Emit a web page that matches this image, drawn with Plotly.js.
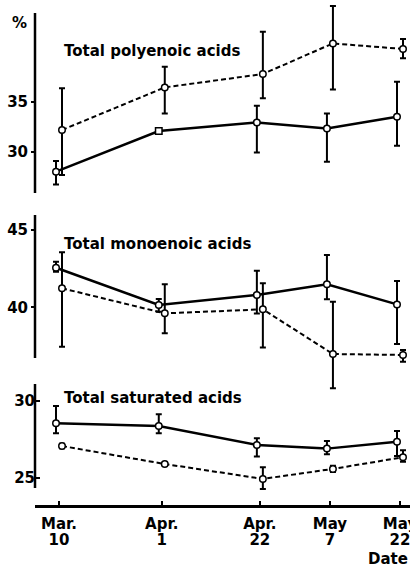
<!DOCTYPE html>
<html><head><meta charset="utf-8">
<script src="https://cdn.plot.ly/plotly-3.0.1.min.js"></script>
<style>html,body{margin:0;padding:0;background:#fff}#chart{width:410px;height:570px}</style>
</head><body><div id="chart"></div>
<script>
// ---- data ----
const dates = ['1970-03-10','1970-04-01','1970-04-22','1970-05-07','1970-05-22'];
const monthLabels = ['Mar.','Apr.','Apr.','May','May'];
const dayLabels = ['10','1','22','7','22'];

const polySolid      = [28.0, 32.07, 32.93, 32.33, 33.5];
const polySolidUp    = [1.07, 0, 1.67, 1.5, 3.5];
const polySolidDown  = [1.27, 0, 3.0, 3.33, 2.9];
const polyDashed     = [32.17, 36.43, 37.77, 40.83, 40.27];
const polyDashedUp   = [4.17, 2.07, 4.23, 3.73, 1.0];
const polyDashedDown = [4.5, 2.6, 2.43, 4.6, 0.93];

const monoSolid      = [42.56, 40.15, 40.8, 41.49, 40.19];
const monoSolidUp    = [0.39, 0.39, 1.57, 1.89, 1.51];
const monoSolidDown  = [0.26, 0.43, 1.2, 0.97, 2.56];
const monoDashed     = [41.23, 39.61, 39.87, 36.98, 36.92];
const monoDashedUp   = [2.33, 1.88, 1.68, 3.38, 0.32];
const monoDashedDown = [3.78, 1.29, 2.46, 2.22, 0.44];

const satSolid       = [28.53, 28.35, 27.12, 26.88, 27.33];
const satSolidUp     = [1.13, 0.76, 0.43, 0.5, 0.7];
const satSolidDown   = [0.65, 0.47, 0.76, 0.37, 0.93];
const satDashed      = [27.05, 25.88, 24.91, 25.56, 26.32];
const satDashedUp    = [0.15, 0.1, 0.76, 0.2, 0.45];
const satDashedDown  = [0.15, 0.1, 0.65, 0.2, 0.3];

const panelTitles = ['Total polyenoic acids','Total monoenoic acids','Total saturated acids'];
const polyTicks = [30, 35];
const monoTicks = [40, 45];
const satTicks  = [25, 30];

// ---- layout helpers ----
const W = 410, H = 570, L = 35;
const FONT = 'DejaVu Sans';
const py = p => 1 - p / H;             // pixel y -> paper
const px = p => (p - L) / (W - L);     // pixel x -> paper
const DAY = 864e5;
const base = Date.UTC(1970, 2, 10);
const pxPerDay = (400 - 59) / 73;
const left = base - (59 - L) / pxPerDay * DAY;
const right = base + (73 + (W - 400) / pxPerDay) * DAY;
const shift = 3 / pxPerDay * DAY;      // small horizontal offset of the two series
const fmt = ms => new Date(ms).toISOString().replace('T', ' ').replace('Z', '');
const toMs = d => Date.parse(d + 'T00:00:00Z');

const tf = {family: FONT, size: 15, color: 'black', weight: 'bold'};

function pair(yid, sv, su, sd, dv, du, dd, solidSymbols) {
  const common = {type: 'scatter', mode: 'lines+markers', x: dates, yaxis: yid,
    cliponaxis: false, showlegend: false, hoverinfo: 'skip'};
  return [
    Object.assign({}, common, {xaxis: 'x', y: sv,
      line: {color: 'black', width: 2.5},
      marker: {symbol: solidSymbols || 'circle', size: 6.5, color: 'white', line: {color: 'black', width: 1.5}},
      error_y: {type: 'data', symmetric: false, array: su, arrayminus: sd, color: 'black', thickness: 2, width: 3}}),
    Object.assign({}, common, {xaxis: 'x2', y: dv,
      line: {color: 'black', width: 2, dash: '5px,3px'},
      marker: {symbol: 'circle', size: 6.5, color: 'white', line: {color: 'black', width: 1.5}},
      error_y: {type: 'data', symmetric: false, array: du, arrayminus: dd, color: 'black', thickness: 2, width: 3}})
  ];
}

const data = [].concat(
  pair('y', polySolid, polySolidUp, polySolidDown, polyDashed, polyDashedUp, polyDashedDown,
       ['circle','square','circle','circle','circle']),
  pair('y2', monoSolid, monoSolidUp, monoSolidDown, monoDashed, monoDashedUp, monoDashedDown),
  pair('y3', satSolid, satSolidUp, satSolidDown, satDashed, satDashedUp, satDashedDown)
);

function yax(domain, range, ticks, dir) {
  return {domain: domain, range: range, anchor: 'free', position: 0,
    showline: false,
    ticks: dir, ticklen: 4, tickwidth: 2, tickcolor: 'black',
    tickmode: 'array', tickvals: ticks, tickfont: tf,
    showgrid: false, zeroline: false, fixedrange: true};
}
function axisLine(top, bottom) {
  return {type: 'line', xref: 'paper', yref: 'paper', x0: 0, x1: 0, y0: py(bottom), y1: py(top),
    line: {color: 'black', width: 2.5}};
}

const layout = {
  width: W, height: H,
  margin: {l: L, r: 0, t: 0, b: 0},
  paper_bgcolor: 'white', plot_bgcolor: 'rgba(0,0,0,0)',
  showlegend: false,
  xaxis: {type: 'date', range: [fmt(left + shift), fmt(right + shift)], domain: [0, 1],
    anchor: 'free', position: py(506),
    showline: true, linecolor: 'black', linewidth: 2.5,
    ticks: 'inside', ticklen: 4, tickwidth: 2, tickcolor: 'black',
    tickmode: 'array', tickvals: dates.map(d => fmt(toMs(d) + shift)), ticktext: monthLabels, tickfont: tf,
    ticklabelstandoff: 3, ticklabeloverflow: 'allow',
    showgrid: false, zeroline: false, fixedrange: true},
  xaxis2: {type: 'date', range: [fmt(left - shift), fmt(right - shift)], overlaying: 'x',
    anchor: 'free', position: py(529),
    showline: false, ticks: '', ticklabeloverflow: 'allow',
    tickmode: 'array', tickvals: dates.map(d => fmt(toMs(d) - shift)), ticktext: dayLabels, tickfont: tf,
    showgrid: false, zeroline: false, fixedrange: true},
  // domains reach a bit past the drawn axis lines so long error bars are not cut
  yaxis:  yax([py(193), py(4)], [30 - (193 - 151.7) / 10, 35 + (101.7 - 4) / 10], polyTicks, 'outside'),
  yaxis2: yax([py(392), py(215)], [40 - (392 - 307.3) / 15.47, 45 + (230 - 215) / 15.47], monoTicks, 'outside'),
  yaxis3: yax([py(492), py(384)], [25 - (492 - 477.5) / 15.37, 30 + (400.7 - 384) / 15.37], satTicks, 'inside'),
  shapes: [axisLine(13, 193), axisLine(215, 358), axisLine(384, 488)],
  annotations: [
    {text: panelTitles[0], xref: 'paper', yref: 'paper', x: px(62), y: py(51), xanchor: 'left', yanchor: 'middle', showarrow: false, font: tf},
    {text: panelTitles[1], xref: 'paper', yref: 'paper', x: px(62), y: py(244), xanchor: 'left', yanchor: 'middle', showarrow: false, font: tf},
    {text: panelTitles[2], xref: 'paper', yref: 'paper', x: px(62), y: py(398), xanchor: 'left', yanchor: 'middle', showarrow: false, font: tf},
    {text: '%', xref: 'paper', yref: 'paper', x: px(19.5), y: py(22.5), xanchor: 'center', yanchor: 'middle', showarrow: false, font: tf},
    {text: 'Date', xref: 'paper', yref: 'paper', x: 1, y: py(559), xanchor: 'right', yanchor: 'middle', showarrow: false, font: tf}
  ]
};

Plotly.newPlot('chart', data, layout, {staticPlot: true, displayModeBar: false});
</script>
</body></html>
